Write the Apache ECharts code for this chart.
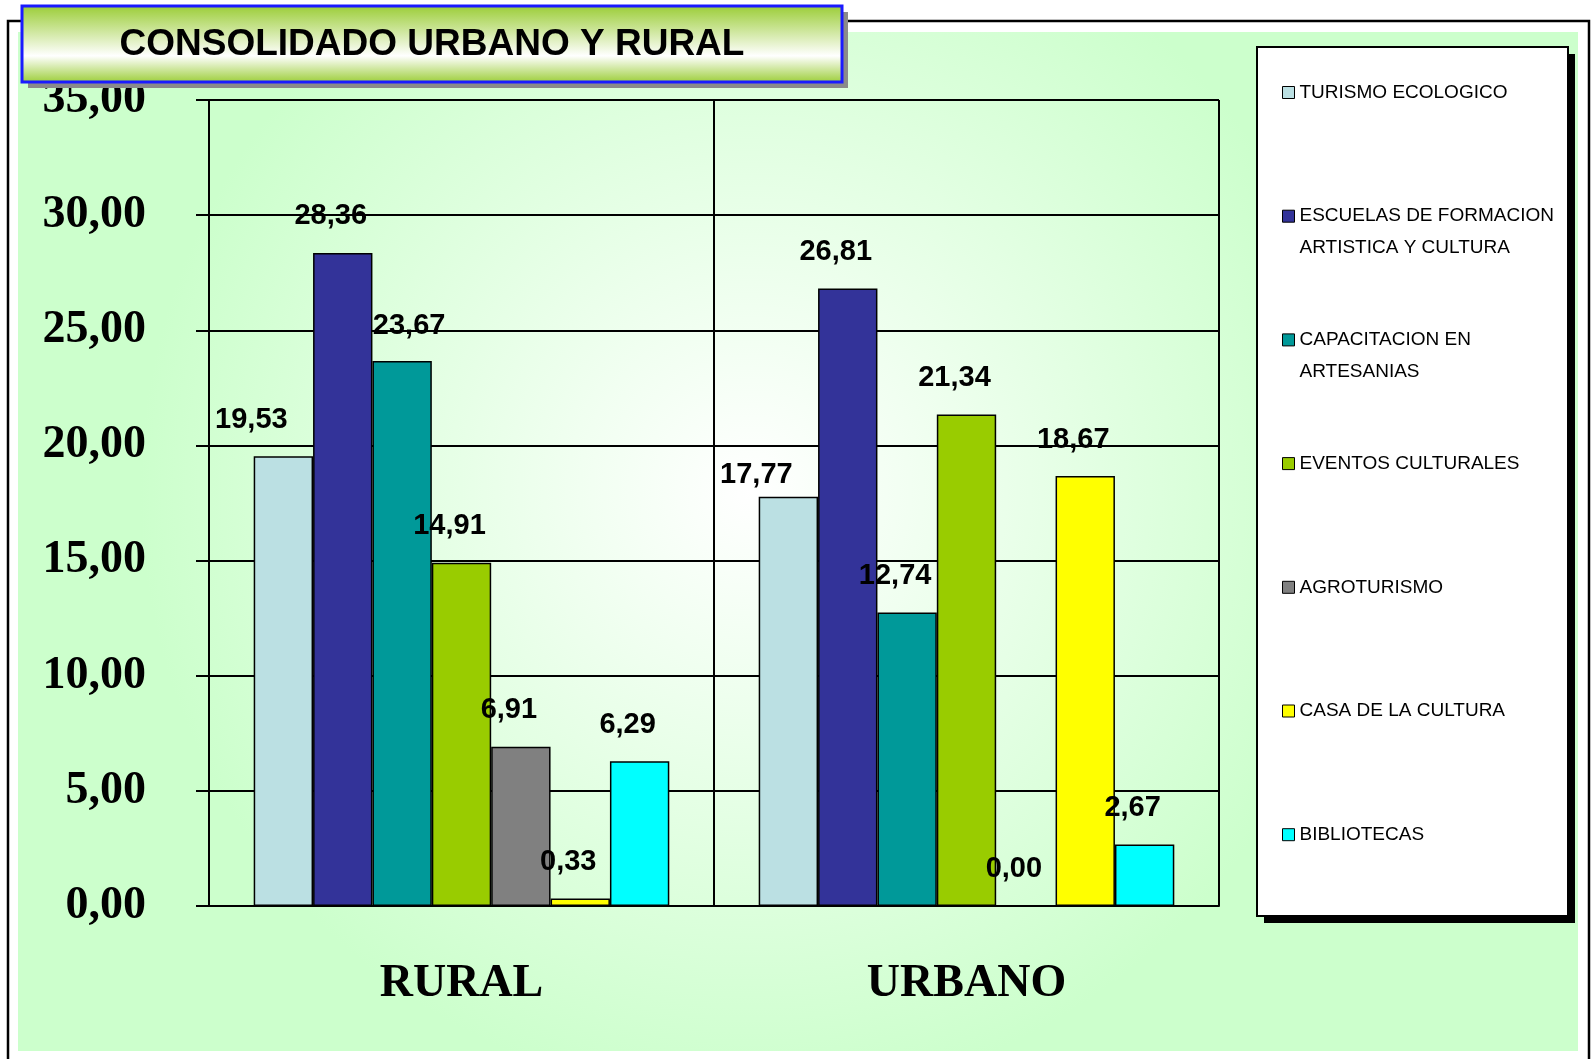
<!DOCTYPE html>
<html style="height: 100%">
<head>
    <meta charset="UTF-8">
    <title>Consolidado urbano y rural</title>
</head>
<body style="height: 100%; margin: 0; background: #ffffff">
<div id="container" style="width: 1594px; height: 1059px"></div>

<script type="text/javascript" src="https://cdn.jsdelivr.net/npm/echarts@6/dist/echarts.min.js"></script>
<script type="text/javascript">
    // datos
    var categories = ['RURAL', 'URBANO'];
    var seriesNames = [
        'TURISMO ECOLOGICO',
        'ESCUELAS DE FORMACION\nARTISTICA Y CULTURA',
        'CAPACITACION EN\nARTESANIAS',
        'EVENTOS CULTURALES',
        'AGROTURISMO',
        'CASA DE LA CULTURA',
        'BIBLIOTECAS'
    ];
    var turismo = [19.53, 17.77];
    var escuelas = [28.36, 26.81];
    var capacitacion = [23.67, 12.74];
    var eventos = [14.91, 21.34];
    var agroturismo = [6.91, 0.00];
    var casa = [0.33, 18.67];
    var bibliotecas = [6.29, 2.67];
    var yTicks = [0, 5, 10, 15, 20, 25, 30, 35];

    var values = [turismo, escuelas, capacitacion, eventos, agroturismo, casa, bibliotecas];
    var colors = ['#bbe0e3', '#333399', '#009999', '#99cc00', '#808080', '#ffff00', '#00ffff'];

    var dom = document.getElementById("container");
    var myChart = echarts.init(dom);

    function fmt(v) {
        return Number(v).toFixed(2).replace('.', ',');
    }

    var sans = "'Liberation Sans', Arial, sans-serif";
    var serif = "'Liberation Serif', 'Times New Roman', serif";

    // desplazamientos de etiquetas como en el original
    function labelOffset(i, j) {
        if (i === 0 && j === 1) return [-32, 15];
        if (i === 0) return [-32, 0];
        if (i === 2 && j === 0) return [7, 2];
        return [-12, 0];
    }

    var series = values.map(function (vals, i) {
        return {
            name: seriesNames[i],
            type: 'bar',
            barGap: '0%',
            barCategoryGap: '17.7%',
            itemStyle: {color: colors[i], borderColor: '#000', borderWidth: 1.5},
            label: {
                show: true,
                position: 'top',
                distance: 22,
                fontFamily: sans,
                fontWeight: 'bold',
                fontSize: 29,
                color: '#000',
                formatter: function (p) { return fmt(p.value); }
            },
            data: vals.map(function (v, j) {
                return {value: v, label: {offset: labelOffset(i, j)}};
            })
        };
    });

    var option = {
        animation: false,
        color: colors,
        graphic: [
            // marco exterior
            {type: 'rect', z: -20, shape: {x: 8, y: 21, width: 1581, height: 1060},
                style: {fill: '#ffffff', stroke: '#000', lineWidth: 2.5}},
            // fondo verde
            {type: 'rect', z: -10, shape: {x: 18, y: 32, width: 1560, height: 1019},
                style: {
                    fill: {
                        type: 'radial', x: 0.47, y: 0.45, r: 0.6,
                        colorStops: [
                            {offset: 0, color: '#ffffff'},
                            {offset: 0.3, color: '#f0fff0'},
                            {offset: 1, color: '#ccffcc'}
                        ]
                    }
                }},
            // caja de la leyenda
            {type: 'rect', z: 1, shape: {x: 1264, y: 54, width: 311, height: 869}, style: {fill: '#000'}},
            {type: 'rect', z: 1, shape: {x: 1257, y: 47, width: 311, height: 869},
                style: {fill: '#ffffff', stroke: '#000', lineWidth: 2}},
            // titulo
            {type: 'rect', z: 100, shape: {x: 28, y: 12, width: 820, height: 76}, style: {fill: '#8a8a8a'}},
            {type: 'rect', z: 100, shape: {x: 22, y: 6, width: 820, height: 76},
                style: {
                    fill: {
                        type: 'linear', x: 0, y: 0, x2: 0, y2: 1,
                        colorStops: [
                            {offset: 0, color: '#99cc33'},
                            {offset: 0.65, color: '#ffffff'},
                            {offset: 1, color: '#99cc33'}
                        ]
                    },
                    stroke: '#1a1aff', lineWidth: 3
                }},
            {type: 'text', z: 101, x: 432, y: 45,
                style: {text: 'CONSOLIDADO URBANO Y RURAL', fill: '#000', align: 'center', verticalAlign: 'middle',
                    font: 'bold 37px "Liberation Sans", Arial, sans-serif'}}
        ],
        legend: {
            orient: 'vertical',
            left: 1282,
            top: 44.5,
            padding: 0,
            itemGap: 27.7,
            itemWidth: 12,
            itemHeight: 12,
            icon: 'rect',
            itemStyle: {borderColor: '#000', borderWidth: 1},
            selectedMode: false,
            data: seriesNames,
            // tres lineas por item para que el icono quede en la primera linea de texto
            formatter: function (name) {
                return name.indexOf('\n') >= 0 ? ' \n' + name : ' \n' + name + '\n ';
            },
            textStyle: {
                fontFamily: sans,
                fontSize: 19,
                lineHeight: 32,
                color: '#000'
            }
        },
        grid: {left: 209, right: 375, top: 100, bottom: 153, containLabel: false},
        xAxis: {
            type: 'category',
            data: categories,
            axisLine: {lineStyle: {color: '#000', width: 2}},
            axisTick: {show: false},
            splitLine: {show: true, lineStyle: {color: '#000', width: 2}},
            axisLabel: {
                margin: 55,
                fontFamily: serif,
                fontWeight: 'bold',
                fontSize: 46,
                color: '#000'
            }
        },
        yAxis: {
            type: 'value',
            min: yTicks[0],
            max: yTicks[yTicks.length - 1],
            interval: 5,
            axisLine: {show: true, lineStyle: {color: '#000', width: 2}},
            axisTick: {show: true, length: 13, lineStyle: {color: '#000', width: 2}},
            splitLine: {show: true, lineStyle: {color: '#000', width: 2}},
            axisLabel: {
                margin: 63,
                fontFamily: serif,
                fontWeight: 'bold',
                fontSize: 46,
                color: '#000',
                formatter: fmt
            }
        },
        series: series
    };

    myChart.setOption(option);
</script>
</body>
</html>
